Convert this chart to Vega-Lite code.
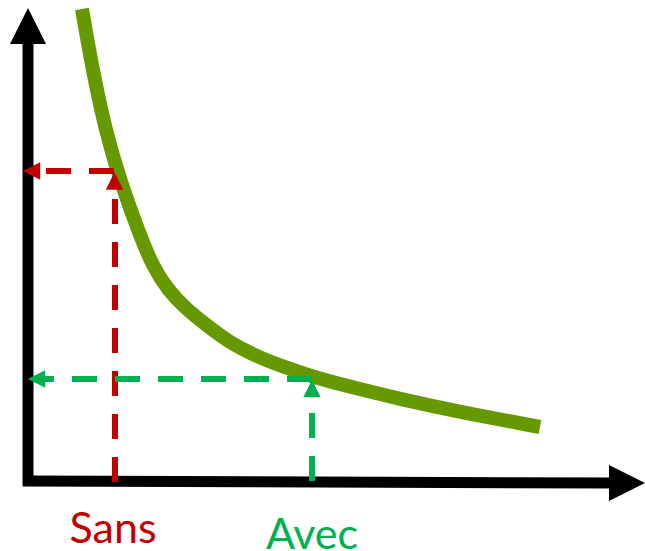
{
  "$schema": "https://vega.github.io/schema/vega-lite/v6.json",
  "width": 645,
  "height": 551,
  "padding": 0,
  "autosize": {"type": "none"},
  "background": "white",
  "config": {"view": {"stroke": null}},
  "datasets": {
    "axes": [
      {"name": "y", "x": 28, "y": 486, "x2": 28, "y2": 40},
      {"name": "x", "x": 23, "y": 481, "x2": 616, "y2": 483}
    ],
    "curve": [
      {"x": 82, "y": 9},
      {"x": 92, "y": 67},
      {"x": 106, "y": 133},
      {"x": 121, "y": 183},
      {"x": 139, "y": 233},
      {"x": 153, "y": 267},
      {"x": 168, "y": 290},
      {"x": 185, "y": 308},
      {"x": 205, "y": 324},
      {"x": 230, "y": 343},
      {"x": 260, "y": 358},
      {"x": 290, "y": 369},
      {"x": 320, "y": 379},
      {"x": 355, "y": 388},
      {"x": 400, "y": 399},
      {"x": 460, "y": 412},
      {"x": 540, "y": 427}
    ],
    "guides": [
      {"series": "Sans", "x": 115, "y": 482, "x2": 115, "y2": 189},
      {"series": "Sans", "x": 114, "y": 171, "x2": 40, "y2": 171},
      {"series": "Avec", "x": 312, "y": 481, "x2": 312, "y2": 397},
      {"series": "Avec", "x": 312, "y": 379, "x2": 45, "y2": 379}
    ],
    "bigArrows": [
      {"dir": "up", "x": 28, "y": 26},
      {"dir": "right", "x": 627, "y": 483}
    ],
    "smallArrows": [
      {"series": "Sans", "dir": "left", "x": 31.5, "y": 171},
      {"series": "Sans", "dir": "up", "x": 114.5, "y": 181},
      {"series": "Avec", "dir": "left", "x": 36.5, "y": 379},
      {"series": "Avec", "dir": "up", "x": 312, "y": 388.5}
    ],
    "labels": [
      {"series": "Sans", "x": 113, "y": 543},
      {"series": "Avec", "x": 312, "y": 549}
    ]
  },
  "layer": [
    {
      "data": {"name": "axes"},
      "mark": {"type": "rule", "stroke": "black", "strokeWidth": 11},
      "encoding": {
        "x": {"field": "x", "type": "quantitative", "scale": {"domain": [0, 645]}, "axis": null},
        "y": {"field": "y", "type": "quantitative", "scale": {"domain": [0, 551], "reverse": true}, "axis": null},
        "x2": {"field": "x2"},
        "y2": {"field": "y2"}
      }
    },
    {
      "data": {"name": "bigArrows"},
      "mark": {"type": "point", "filled": true, "size": 1296, "color": "black", "opacity": 1, "strokeWidth": 0},
      "encoding": {
        "x": {"field": "x", "type": "quantitative", "scale": {"domain": [0, 645]}, "axis": null},
        "y": {"field": "y", "type": "quantitative", "scale": {"domain": [0, 551], "reverse": true}, "axis": null},
        "shape": {"field": "dir", "type": "nominal", "scale": {"domain": ["up", "left", "right"], "range": ["M0,-1L1,1L-1,1Z", "M-1,0L1,-1L1,1Z", "M1,0L-1,-1L-1,1Z"]}, "legend": null}
      }
    },
    {
      "data": {"name": "curve"},
      "mark": {"type": "line", "stroke": "#669900", "strokeWidth": 14, "interpolate": "basis", "strokeCap": "butt"},
      "encoding": {
        "x": {"field": "x", "type": "quantitative", "scale": {"domain": [0, 645]}, "axis": null},
        "y": {"field": "y", "type": "quantitative", "scale": {"domain": [0, 551], "reverse": true}, "axis": null}
      }
    },
    {
      "data": {"name": "guides"},
      "mark": {"type": "rule", "strokeWidth": 6, "strokeDash": [25, 18], "strokeCap": "butt"},
      "encoding": {
        "x": {"field": "x", "type": "quantitative", "scale": {"domain": [0, 645]}, "axis": null},
        "y": {"field": "y", "type": "quantitative", "scale": {"domain": [0, 551], "reverse": true}, "axis": null},
        "x2": {"field": "x2"},
        "y2": {"field": "y2"},
        "color": {"field": "series", "type": "nominal", "scale": {"domain": ["Sans", "Avec"], "range": ["#C00000", "#00B050"]}, "legend": null}
      }
    },
    {
      "data": {"name": "smallArrows"},
      "mark": {"type": "point", "filled": true, "size": 300, "opacity": 1, "strokeWidth": 0},
      "encoding": {
        "x": {"field": "x", "type": "quantitative", "scale": {"domain": [0, 645]}, "axis": null},
        "y": {"field": "y", "type": "quantitative", "scale": {"domain": [0, 551], "reverse": true}, "axis": null},
        "shape": {"field": "dir", "type": "nominal", "scale": {"domain": ["up", "left", "right"], "range": ["M0,-1L1,1L-1,1Z", "M-1,0L1,-1L1,1Z", "M1,0L-1,-1L-1,1Z"]}, "legend": null},
        "color": {"field": "series", "type": "nominal", "scale": {"domain": ["Sans", "Avec"], "range": ["#C00000", "#00B050"]}, "legend": null}
      }
    },
    {
      "data": {"name": "labels"},
      "mark": {"type": "text", "font": "Lato", "fontSize": 43, "align": "center", "baseline": "alphabetic"},
      "encoding": {
        "x": {"field": "x", "type": "quantitative", "scale": {"domain": [0, 645]}, "axis": null},
        "y": {"field": "y", "type": "quantitative", "scale": {"domain": [0, 551], "reverse": true}, "axis": null},
        "text": {"field": "series"},
        "color": {"field": "series", "type": "nominal", "scale": {"domain": ["Sans", "Avec"], "range": ["#C00000", "#00B050"]}, "legend": null}
      }
    }
  ]
}
